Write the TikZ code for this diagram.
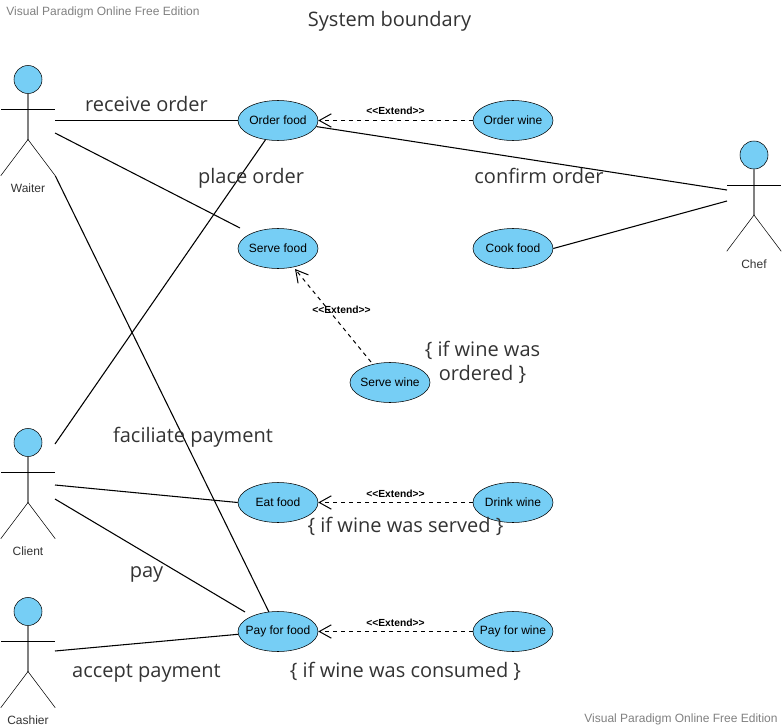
\documentclass[tikz,border=0pt]{standalone}
\usepackage{fontspec}
\setmainfont{Liberation Sans}
\newfontfamily\notefont{Open Sans}
\usepackage{xcolor}
\usetikzlibrary{shapes.geometric,arrows.meta}
\definecolor{ucblue}{HTML}{76CEF5}
\definecolor{notegray}{HTML}{333333}
\definecolor{markgray}{HTML}{808080}
\newcommand{\uct}[1]{\makebox[0pt]{#1}}
\newcommand{\ucactor}[4]{%
	\node[actorbox] (#1) at (#2,#3) {};
	\node[headdot] (#1head) at (#2,#3-41) {};
	\draw[draw=markgray,line width=1pt] (#1head.south) -- (#2,#3+19);
	\draw (#2-27,#3-11) -- (#2+27,#3-11);
	\draw (#1.south west) -- (#2,#3+19) -- (#1.south east);
	\node[actorname] (#1name) at (#2,#3+68) {#4};}

\begin{document}
\begin{tikzpicture}[x=0.75pt,y=-0.75pt]
			\tikzset{usecase/.style={ellipse,draw,fill=ucblue,inner sep=0pt,minimum width=60pt,minimum height=30pt,font=\fontsize{9}{11}\selectfont}}
			\tikzset{actorbox/.style={inner sep=0pt,minimum width=40.5pt,minimum height=82.5pt}}
			\tikzset{headdot/.style={circle,draw,fill=ucblue,inner sep=0pt,minimum size=21pt}}
			\tikzset{actorname/.style={font=\fontsize{9}{11}\selectfont,text=notegray}}
			\tikzset{note/.style={font=\notefont\fontsize{15}{18}\selectfont,text=notegray,align=center}}
			\tikzset{stereo/.style={font=\bfseries\fontsize{7.7}{9}\selectfont}}
			\tikzset{editionmark/.style={font=\fontsize{9}{11}\selectfont,text=markgray}}
			\tikzset{assoc/.style={line width=0.8pt}}
			\tikzset{extend/.style={dashed,line width=0.75pt,-{Straight Barb[length=9pt,width=10pt]}}}
			\useasboundingbox (0,0) rectangle (782,728);
			% actors
			\ucactor{waiter}{28}{120.5}{Waiter}
			\ucactor{chef}{754}{196}{Chef}
			\ucactor{client}{28}{483.5}{Client}
			\ucactor{cashier}{28}{652.5}{Cashier}
			% use cases
			\node[usecase] (orderfood) at (278,120.5) {\uct{Order food}};
			\node[usecase] (orderwine) at (513,120.5) {\uct{Order wine}};
			\node[usecase] (servefood) at (278,248.5) {\uct{Serve food}};
			\node[usecase] (cookfood) at (513,248.5) {\uct{Cook food}};
			\node[usecase] (servewine) at (390,382.5) {\uct{Serve wine}};
			\node[usecase] (eatfood) at (278,502.5) {\uct{Eat food}};
			\node[usecase] (drinkwine) at (513,502.5) {\uct{Drink wine}};
			\node[usecase] (payfood) at (278,631.5) {\uct{Pay for food}};
			\node[usecase] (paywine) at (513,631.5) {\uct{Pay for wine}};
			% free ends
			\coordinate (waiterb) at (55,133);
			\coordinate (clienta) at (55,444);
			\coordinate (clientb) at (55,485);
			\coordinate (clientc) at (55,499);
			\coordinate (cashiera) at (55,651);
			\coordinate (chefa) at (727,190);
			\coordinate (chefb) at (727,201);
			\coordinate (servefoodend) at (240,228);
			\coordinate (payfoodend) at (245,612);
			\coordinate (servetip) at (295,269);
			\coordinate (servewineend) at (371,362);
			% associations
			\draw[assoc] (waiter.east) -- (orderfood.west);
			\draw[assoc] (waiterb) -- (servefoodend);
			\draw[assoc] (waiter.south east) -- (payfood.115);
			\draw[assoc] (clienta) -- (orderfood.237);
			\draw[assoc] (clientb) -- (eatfood.west);
			\draw[assoc] (clientc) -- (payfoodend);
			\draw[assoc] (cashiera) -- (payfood.184);
			\draw[assoc] (chefa) -- (orderfood.351);
			\draw[assoc] (chefb) -- (cookfood.east);
			% extends
			\draw[extend] (orderwine.west) -- (orderfood.east);
			\draw[extend] (servewineend) -- (servetip);
			\draw[extend] (drinkwine.west) -- (eatfood.east);
			\draw[extend] (paywine.west) -- (payfood.east);
			\node[stereo] (extorder) at (395.5,110.5) {<{}<Extend>{}>};
			\node[stereo] (extserve) at (341.5,309.5) {<{}<Extend>{}>};
			\node[stereo] (extdrink) at (395.5,493.5) {<{}<Extend>{}>};
			\node[stereo] (extpay) at (395.5,622.5) {<{}<Extend>{}>};
			% notes
			\node[note] (boundary) at (389.5,21.5) {System boundary};
			\node[note] (receive) at (146.5,104) {receive order};
			\node[note] (place) at (251,178) {place order};
			\node[note] (confirm) at (539,176) {confirm order};
			\node[note] (ordered) at (482.5,362) {\{ if wine was\\ordered \}};
			\node[note] (faciliate) at (193,437) {faciliate payment};
			\node[note] (served) at (405.5,526) {\{ if wine was served \}};
			\node[note] (pay) at (146.5,574) {pay};
			\node[note] (accept) at (146.5,673) {accept payment};
			\node[note] (consumed) at (405.5,671) {\{ if wine was consumed \}};
			% edition marks
			\node[editionmark] (marktop) at (103,12) {Visual Paradigm Online Free Edition};
			\node[editionmark] (markbottom) at (681,719) {Visual Paradigm Online Free Edition};
		\end{tikzpicture}
\end{document}
